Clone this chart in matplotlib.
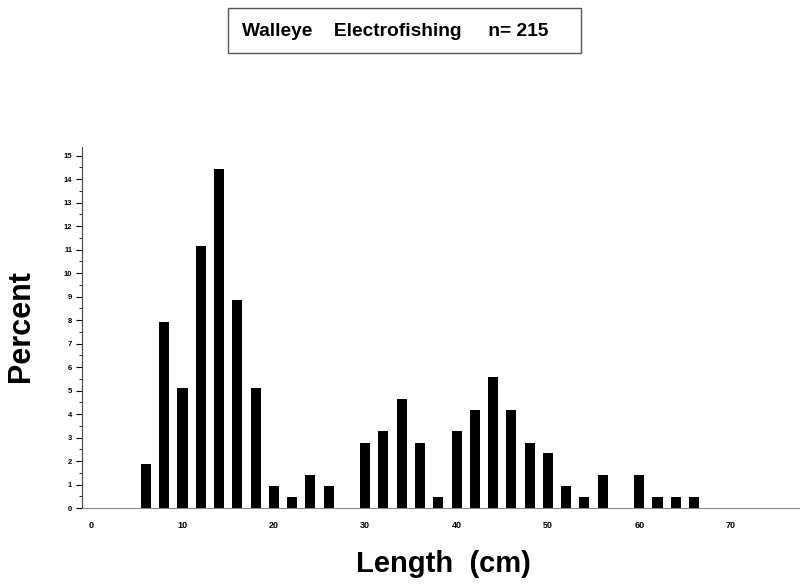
import matplotlib
matplotlib.use('Agg')
from matplotlib import pyplot as plt
from matplotlib.patches import Rectangle
from matplotlib.ticker import MultipleLocator

plt.rcParams['font.family'] = ['Liberation Sans', 'DejaVu Sans']

# length class midpoints (cm) and percent of catch
lengths = [6, 8, 10, 12, 14, 16, 18, 20, 22, 24, 26,
           30, 32, 34, 36, 38, 40, 42, 44, 46, 48, 50,
           52, 54, 56, 60, 62, 64, 66]
percent = [1.86, 7.91, 5.12, 11.16, 14.42, 8.84, 5.12, 0.93, 0.47, 1.40, 0.93,
           2.79, 3.26, 4.65, 2.79, 0.47, 3.26, 4.19, 5.58, 4.19, 2.79, 2.33,
           0.93, 0.47, 1.40, 1.40, 0.47, 0.47, 0.47]
x_ticks = [0, 10, 20, 30, 40, 50, 60, 70]
y_ticks = list(range(16))
title = 'Walleye    Electrofishing     n= 215'

fig = plt.figure(figsize=(8, 5.84), dpi=100)
ax = fig.add_axes([0.1025, 0.13, 0.8975, 0.618])

ax.bar(lengths, percent, width=1.1, color='black')

ax.set_xlim(-1, 77.6)
ax.set_ylim(0, 15.36)
ax.set_xticks(x_ticks)
ax.set_yticks(y_ticks)
ax.yaxis.set_minor_locator(MultipleLocator(0.5))
ax.tick_params(axis='x', length=0, labelsize=6.5, pad=9)
ax.tick_params(axis='y', which='major', length=4, width=0.8, labelsize=5.5, pad=3)
ax.tick_params(axis='y', which='minor', length=2, width=0.6)
for lab in ax.get_xticklabels() + ax.get_yticklabels():
    lab.set_fontweight('bold')

ax.spines['top'].set_visible(False)
ax.spines['right'].set_visible(False)
ax.spines['left'].set_color('#444444')
ax.spines['bottom'].set_color('#888888')

fig.text(0.026, 0.442, 'Percent', rotation=90, ha='center', va='center',
         fontsize=22, fontweight='bold')
fig.text(0.554, 0.035, 'Length  (cm)', ha='center', va='center',
         fontsize=21, fontweight='bold')

# title box
fig.patches.append(Rectangle((228 / 800, 1 - 53 / 584), 353 / 800, 45 / 584,
                             transform=fig.transFigure, facecolor='white',
                             edgecolor='#555555', linewidth=1))
fig.text(0.494, 1 - 32 / 584, title, ha='center', va='center', fontsize=13.8,
         fontweight='bold')

fig.savefig('out.png', dpi=100)
plt.close()
